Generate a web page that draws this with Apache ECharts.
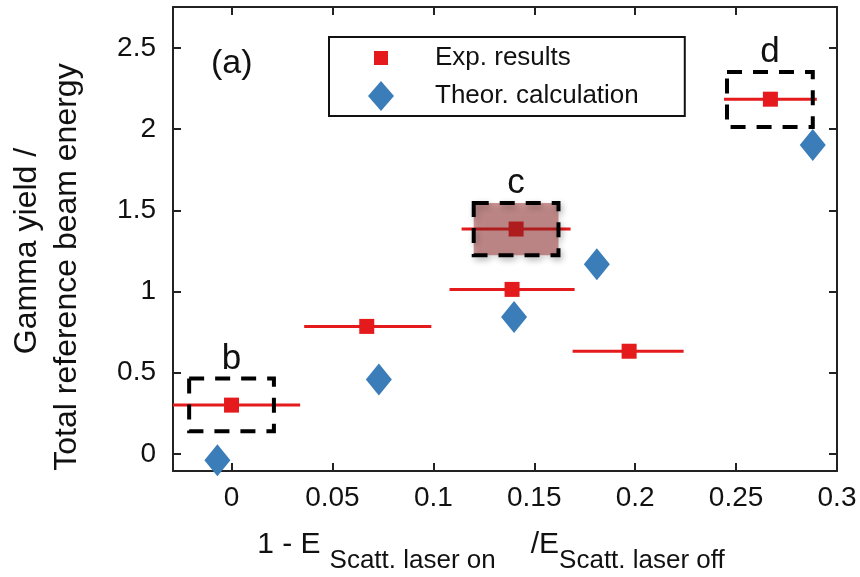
<!DOCTYPE html>
<html><head><meta charset="utf-8">
<script src="https://cdn.jsdelivr.net/npm/echarts@6/dist/echarts.min.js"></script>
<style>html,body{margin:0;padding:0;background:#fff}#c{width:860px;height:577px}</style>
</head><body><div id="c"></div>
<script>
// ---- data ----
const seriesNames = ['Exp. results', 'Theor. calculation'];
const expX   = [0.000, 0.067, 0.139, 0.141, 0.197, 0.267];
const expY   = [0.300, 0.785, 1.013, 1.385, 0.632, 2.185];
const expXLo = [-0.034, 0.036, 0.108, 0.114, 0.169, 0.244];
const expXHi = [0.034, 0.099, 0.170, 0.168, 0.224, 0.290];
const theoX  = [-0.007, 0.073, 0.140, 0.181, 0.288];
const theoY  = [-0.040, 0.458, 0.843, 1.168, 1.903];
const xTicks = [0, 0.05, 0.1, 0.15, 0.2, 0.25, 0.3];
const yTicks = [0, 0.5, 1, 1.5, 2, 2.5];
const boxNames = ['b', 'c', 'd'];
const boxX1 = [-0.021, 0.120, 0.2455];
const boxX2 = [0.021, 0.162, 0.288];
const boxY1 = [0.139, 1.223, 2.014];
const boxY2 = [0.464, 1.545, 2.353];
const boxFilled = [false, true, false];
const panelLabel = '(a)';
const yTitleLines = ['Gamma yield /', 'Total reference beam energy'];

const FONT = '"Liberation Sans", Arial, Helvetica, sans-serif';
const RED = '#e41a1c', BLUE = '#3a7db8', INK = '#111';

const chart = echarts.init(document.getElementById('c'), null, {renderer: 'canvas'});

const frameAxisX = (pos) => ({
  type: 'value', position: pos, min: -0.029, max: 0.3,
  axisLine: {show: true, onZero: false, lineStyle: {color: '#222', width: 2}},
  axisTick: {show: true, inside: true, length: 8, customValues: xTicks, lineStyle: {color: '#222', width: 2}},
  splitLine: {show: false}
});
const frameAxisY = (pos) => ({
  type: 'value', position: pos, min: -0.106, max: 2.753,
  axisLine: {show: true, onZero: false, lineStyle: {color: '#222', width: 2}},
  axisTick: {show: true, inside: true, length: 8, customValues: yTicks, lineStyle: {color: '#222', width: 2}},
  splitLine: {show: false}
});

const xBottom = Object.assign(frameAxisX('bottom'), {
  axisLabel: {show: true, customValues: xTicks, fontSize: 28, margin: 13, color: INK, fontFamily: FONT},
  name: '{m|1 - E}{s|Scatt. laser on}{m2|/E}{s2|Scatt. laser off}',
  nameLocation: 'middle', nameGap: 59,
  nameTextStyle: {
    padding: [0, 28, 0, 0],
    rich: {
      m:  {fontSize: 30, lineHeight: 44, verticalAlign: 'top', color: INK, fontFamily: FONT},
      m2: {fontSize: 30, lineHeight: 44, verticalAlign: 'top', color: INK, fontFamily: FONT, padding: [0, 0, 0, 35]},
      s:  {fontSize: 26, lineHeight: 30, verticalAlign: 'bottom', color: INK, fontFamily: FONT, padding: [0, 0, 0, 9]},
      s2: {fontSize: 26, lineHeight: 30, verticalAlign: 'bottom', color: INK, fontFamily: FONT}
    }
  }
});
const xTop = Object.assign(frameAxisX('top'), {axisLabel: {show: false}});
const yLeft = Object.assign(frameAxisY('left'), {
  axisLabel: {show: true, customValues: yTicks, fontSize: 28, margin: 17, color: INK, fontFamily: FONT},
  name: '{a|' + yTitleLines[0] + '}\n{b|' + yTitleLines[1] + '}',
  nameLocation: 'middle', nameGap: 86, nameRotate: 90,
  nameTextStyle: {
    align: 'center',
    rich: {
      a: {fontSize: 32, lineHeight: 40, color: INK, fontFamily: FONT, padding: [0, 24, 0, 0]},
      b: {fontSize: 32, lineHeight: 40, color: INK, fontFamily: FONT, padding: [0, 56, 0, 0]}
    }
  }
});
const yRight = Object.assign(frameAxisY('right'), {axisLabel: {show: false}});

const option = {
  animation: false,
  backgroundColor: '#fff',
  textStyle: {fontFamily: FONT},
  title: {text: panelLabel, left: 211, top: 47, padding: 0,
    textStyle: {fontSize: 34, fontWeight: 'normal', color: INK, fontFamily: FONT}},
  grid: {left: 173, right: 23, top: 7, bottom: 106, outerBoundsMode: 'none', containLabel: false},
  legend: {
    left: 329, top: 37, orient: 'vertical',
    padding: [6, 46, 5, 39], itemGap: 8, itemWidth: 62, itemHeight: 30,
    borderColor: '#111', borderWidth: 2, borderRadius: 0, backgroundColor: '#fff',
    selectedMode: false,
    textStyle: {fontSize: 26, color: INK, fontFamily: FONT},
    data: [
      {name: seriesNames[0], icon: 'path://M0,0M62,30M6,8h14v14h-14z'},
      {name: seriesNames[1], icon: 'path://M0,0M62,30M0,15L13,0L26,15L13,30Z'}
    ]
  },
  xAxis: [xBottom, xTop],
  yAxis: [yLeft, yRight],
  series: [
    {
      type: 'custom', name: 'x-errors', xAxisIndex: 0, yAxisIndex: 0, clip: true, z: 2,
      data: expX.map((x, i) => [expXLo[i], expXHi[i], expY[i]]),
      encode: {x: [0, 1], y: 2},
      renderItem: (params, api) => {
        const a = api.coord([api.value(0), api.value(2)]);
        const b = api.coord([api.value(1), api.value(2)]);
        return {type: 'line', shape: {x1: a[0], y1: a[1], x2: b[0], y2: b[1]},
                style: {stroke: RED, lineWidth: 3}};
      }
    },
    {
      type: 'scatter', name: seriesNames[0], xAxisIndex: 0, yAxisIndex: 0, z: 3,
      symbol: 'rect', symbolSize: 15, itemStyle: {color: RED, opacity: 1},
      data: expX.map((x, i) => [x, expY[i]]),
      markArea: {
        z: 6, silent: true,
        label: {show: true, position: 'top', distance: 0, fontSize: 35, color: INK, fontFamily: FONT},
        data: boxNames.map((n, i) => [
          {name: n, coord: [boxX1[i], boxY2[i]],
           itemStyle: boxFilled[i]
             ? {color: 'rgba(150,35,35,0.48)', borderColor: '#000', borderWidth: 4, borderType: [15, 11],
                shadowBlur: 6, shadowOffsetX: 2, shadowOffsetY: 3, shadowColor: 'rgba(0,0,0,0.28)'}
             : {color: 'rgba(0,0,0,0)', borderColor: '#000', borderWidth: 4, borderType: [15, 11]}},
          {coord: [boxX2[i], boxY1[i]]}
        ])
      }
    },
    {
      type: 'scatter', name: seriesNames[1], xAxisIndex: 0, yAxisIndex: 0, z: 3,
      symbol: 'diamond', symbolSize: [26, 32], itemStyle: {color: BLUE, opacity: 1},
      data: theoX.map((x, i) => [x, theoY[i]])
    }
  ]
};
chart.setOption(option);
</script>
</body></html>
